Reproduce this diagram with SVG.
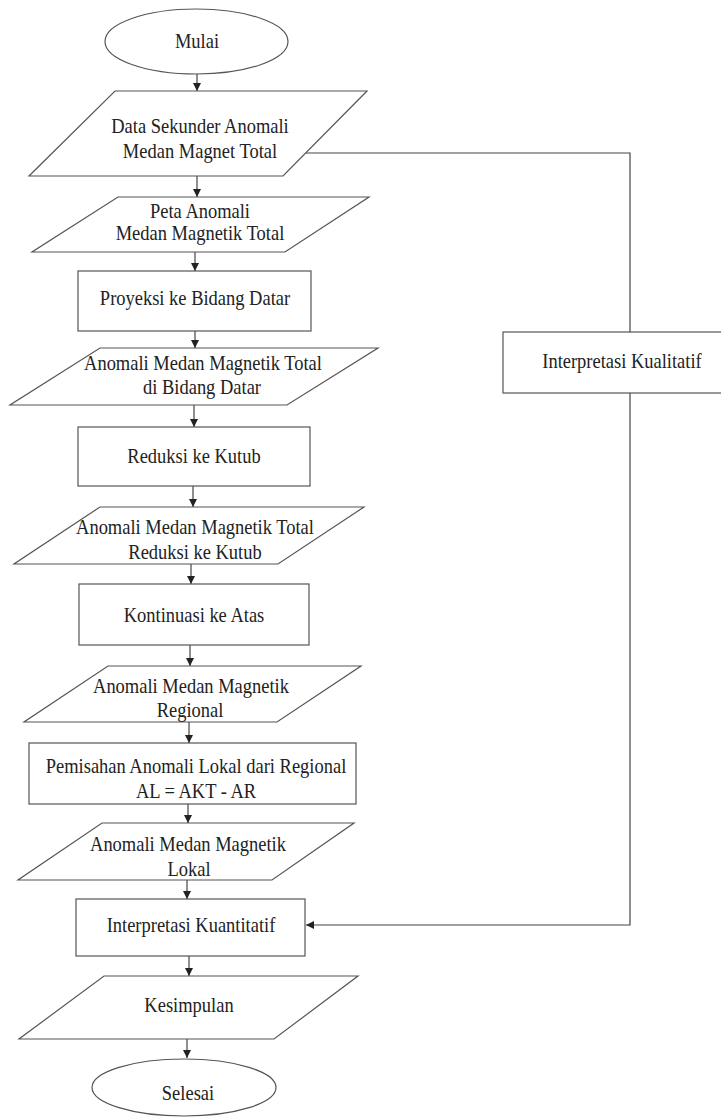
<svg xmlns="http://www.w3.org/2000/svg" width="721" height="1120" viewBox="0 0 721 1120">
<defs>
<marker id="ah" viewBox="0 0 10 10" refX="10" refY="5" markerWidth="10" markerHeight="8" markerUnits="userSpaceOnUse" orient="auto">
<path d="M0,0 L10,5 L0,10 z" fill="#222"/>
</marker>
<style>
.s{fill:#fff;stroke:#555;stroke-width:1.2}
.t{font-family:"Liberation Serif","Times New Roman",serif;font-size:21px;fill:#222;text-anchor:middle}
.c{fill:none;stroke:#444;stroke-width:1.2}
.a{fill:none;stroke:#444;stroke-width:1.2;marker-end:url(#ah)}
</style>
</defs>
<rect width="721" height="1120" fill="#fff"/>
<g id="connectors">
<line class="a" x1="197" y1="74" x2="197" y2="91"/>
<line class="a" x1="197" y1="176" x2="197" y2="197"/>
<line class="a" x1="195" y1="252" x2="195" y2="271"/>
<line class="a" x1="195" y1="331" x2="195" y2="348"/>
<line class="a" x1="194" y1="405" x2="194" y2="427"/>
<line class="a" x1="193" y1="486" x2="193" y2="507"/>
<line class="a" x1="191" y1="564" x2="191" y2="584"/>
<line class="a" x1="190" y1="645" x2="190" y2="666"/>
<line class="a" x1="189" y1="722" x2="189" y2="743"/>
<line class="a" x1="188" y1="804" x2="188" y2="823"/>
<line class="a" x1="187" y1="880" x2="187" y2="899"/>
<line class="a" x1="189" y1="956" x2="189" y2="976"/>
<line class="a" x1="187" y1="1039" x2="187" y2="1058"/>
<polyline class="c" points="306,153 630,153 630,332"/>
<polyline class="a" points="630,393 630,925 306,925"/>
</g>
<g id="mulai">
<ellipse class="s" cx="196.5" cy="41.5" rx="91.5" ry="32.5"/>
<text class="t" transform="translate(197,48) scale(0.88,1)">Mulai</text>
</g>
<g id="data-sekunder">
<polygon class="s" points="115,91 367,91 283,176 29,176"/>
<text class="t" transform="translate(200,133) scale(0.88,1)">Data Sekunder Anomali</text>
<text class="t" transform="translate(200,158) scale(0.88,1)">Medan Magnet Total</text>
</g>
<g id="peta-anomali">
<polygon class="s" points="118,197 369,197 285,252 32,252"/>
<text class="t" transform="translate(200,218) scale(0.88,1)">Peta Anomali</text>
<text class="t" transform="translate(200,240) scale(0.88,1)">Medan Magnetik Total</text>
</g>
<g id="proyeksi">
<rect class="s" x="78" y="271" width="233" height="60"/>
<text class="t" transform="translate(195,305) scale(0.88,1)">Proyeksi ke Bidang Datar</text>
</g>
<g id="anomali-bidang-datar">
<polygon class="s" points="100,348 378,348 287,405 10,405"/>
<text class="t" transform="translate(203,370) scale(0.88,1)">Anomali Medan Magnetik Total</text>
<text class="t" transform="translate(202,394) scale(0.88,1)">di Bidang Datar</text>
</g>
<g id="reduksi">
<rect class="s" x="78" y="427" width="232" height="59"/>
<text class="t" transform="translate(194,463) scale(0.88,1)">Reduksi ke Kutub</text>
</g>
<g id="anomali-rtp">
<polygon class="s" points="100,507 364,507 278,564 14,564"/>
<text class="t" transform="translate(195,534) scale(0.88,1)">Anomali Medan Magnetik Total</text>
<text class="t" transform="translate(195,559) scale(0.88,1)">Reduksi ke Kutub</text>
</g>
<g id="kontinuasi">
<rect class="s" x="79" y="584" width="230" height="61"/>
<text class="t" transform="translate(194,622) scale(0.88,1)">Kontinuasi ke Atas</text>
</g>
<g id="anomali-regional">
<polygon class="s" points="108,666 361,666 277,722 24,722"/>
<text class="t" transform="translate(191,693) scale(0.88,1)">Anomali Medan Magnetik</text>
<text class="t" transform="translate(190,717) scale(0.88,1)">Regional</text>
</g>
<g id="pemisahan">
<rect class="s" x="29" y="743" width="327" height="61"/>
<text class="t" transform="translate(196,773) scale(0.88,1)">Pemisahan Anomali Lokal dari Regional</text>
<text class="t" transform="translate(196,798) scale(0.88,1)">AL = AKT - AR</text>
</g>
<g id="anomali-lokal">
<polygon class="s" points="102,823 354,823 272,880 18,880"/>
<text class="t" transform="translate(188,851) scale(0.88,1)">Anomali Medan Magnetik</text>
<text class="t" transform="translate(189,876) scale(0.88,1)">Lokal</text>
</g>
<g id="kuantitatif">
<rect class="s" x="76" y="899" width="229" height="57"/>
<text class="t" transform="translate(191,932) scale(0.88,1)">Interpretasi Kuantitatif</text>
</g>
<g id="kesimpulan">
<polygon class="s" points="104,976 358,976 274,1039 19,1039"/>
<text class="t" transform="translate(189,1012) scale(0.88,1)">Kesimpulan</text>
</g>
<g id="selesai">
<ellipse class="s" cx="184" cy="1087.5" rx="92" ry="28.5"/>
<text class="t" transform="translate(188,1100) scale(0.88,1)">Selesai</text>
</g>
<g id="kualitatif">
<rect class="s" x="503" y="332" width="240" height="61"/>
<text class="t" transform="translate(622,368) scale(0.88,1)">Interpretasi Kualitatif</text>
</g>
</svg>
